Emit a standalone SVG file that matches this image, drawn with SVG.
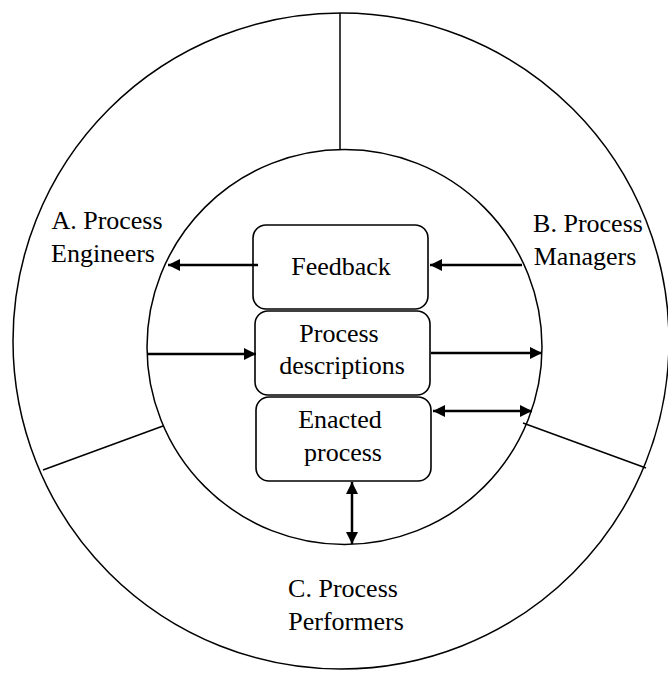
<svg xmlns="http://www.w3.org/2000/svg" width="668" height="675" viewBox="0 0 668 675">
<defs>
<style>
.ring{fill:none;stroke:#000;stroke-width:1.5}
.div{stroke:#000;stroke-width:1.5}
.box{fill:#fff;stroke:#000;stroke-width:1.6}
.arr{stroke:#000;stroke-width:2.5;fill:none}
text{font-family:"Liberation Serif","Times New Roman",serif;font-size:26px;fill:#000;text-anchor:middle}
</style>
<marker id="head" viewBox="0 0 12 12" refX="12" refY="6" markerWidth="12" markerHeight="12" markerUnits="userSpaceOnUse" orient="auto-start-reverse">
<path d="M0,0 L12,6 L0,12 Z" fill="#000"/>
</marker>
</defs>
<rect width="668" height="675" fill="#fff"/>
<g id="rings">
<circle class="ring" cx="341" cy="341" r="328"/>
<circle class="ring" cx="344.5" cy="347" r="197.5"/>
<line class="div" x1="340" y1="13" x2="340" y2="150"/>
<line class="div" x1="43" y1="470" x2="163" y2="426"/>
<line class="div" x1="523" y1="423" x2="646" y2="468"/>
</g>
<g id="engineers">
<text x="107" y="229">A. Process</text>
<text x="103" y="262">Engineers</text>
</g>
<g id="managers">
<text x="588" y="232">B. Process</text>
<text x="585" y="265">Managers</text>
</g>
<g id="performers">
<text x="343" y="597">C. Process</text>
<text x="346" y="630">Performers</text>
</g>
<g id="feedback">
<rect class="box" x="253" y="225" width="175" height="84" rx="13"/>
<text x="341" y="275">Feedback</text>
</g>
<g id="descriptions">
<rect class="box" x="255" y="311" width="175" height="84" rx="13"/>
<text x="339" y="342">Process</text>
<text x="342" y="374">descriptions</text>
</g>
<g id="enacted">
<rect class="box" x="256" y="397" width="175" height="84" rx="13"/>
<text x="340" y="428">Enacted</text>
<text x="343" y="461">process</text>
</g>
<g id="connectors">
<line class="arr" x1="258" y1="265" x2="168" y2="265" marker-end="url(#head)"/>
<line class="arr" x1="522" y1="265" x2="430" y2="265" marker-end="url(#head)"/>
<line class="arr" x1="148" y1="354" x2="256" y2="354" marker-end="url(#head)"/>
<line class="arr" x1="431" y1="353" x2="542" y2="353" marker-end="url(#head)"/>
<line class="arr" x1="433" y1="411" x2="532" y2="411" marker-start="url(#head)" marker-end="url(#head)"/>
<line class="arr" x1="352" y1="482" x2="352" y2="544" marker-start="url(#head)" marker-end="url(#head)"/>
</g>
</svg>
